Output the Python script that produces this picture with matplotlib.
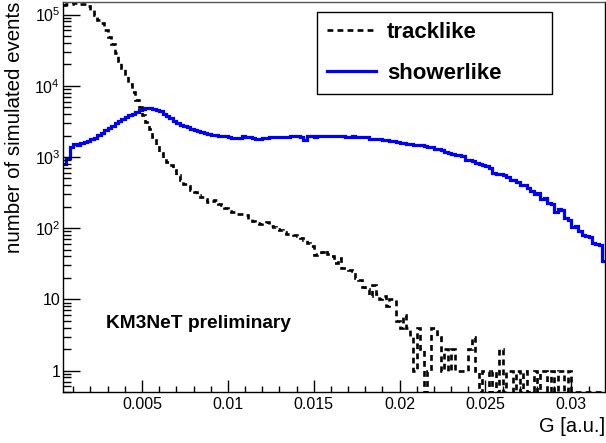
import numpy as np
import matplotlib
matplotlib.use('Agg')
import matplotlib.pyplot as plt
from matplotlib.lines import Line2D
from matplotlib.ticker import FixedLocator, FixedFormatter, LogLocator, MultipleLocator, NullFormatter

# ---------------- data ----------------
bin_lo = 0.0004
bin_width = 0.0002

tracklike = [
    135000, 140000, 142000, 143000, 143000, 142000, 140000, 130000, 115000, 98000,
    85000, 75000, 60000, 49000, 38000, 29000, 22000, 17500, 13500, 10500,
    8300, 6400, 5100, 3900, 3100, 2450, 1900, 1450, 1120, 960,
    860, 760, 650, 550, 470, 420, 385, 340, 320, 290,
    275, 255, 232, 240, 245, 220, 210, 190, 175, 168,
    160, 158, 156, 155, 135, 128, 118, 116, 120, 122,
    108, 104, 98, 93, 88, 82, 82, 80, 78, 72,
    69, 62, 57, 42, 44, 46, 50, 44, 40, 32,
    38, 28, 28, 26, 25, 20, 19, 15, 14, 11,
    16, 12, 10, 11, 8, 10, 10, 5, 4, 6,
    4, 3, 1, 4, 2, 0, 1, 4, 4, 3,
    1, 2, 1, 2, 1, 1, 1, 1, 2, 3,
    1, 0, 1, 1, 0, 1, 0, 2, 0, 1,
    1, 0, 1, 0, 1, 0, 0, 1, 0, 1,
    1, 0, 1, 0, 1, 1, 0, 1, 0, 0,
    0, 0, 0, 0, 0, 0, 0, 0,
]

showerlike = [
    790, 960, 1400, 1500, 1480, 1560, 1620, 1650, 1760, 1850,
    2050, 2200, 2400, 2550, 2700, 2950, 3250, 3400, 3650, 3850,
    4050, 4300, 4500, 4650, 4800, 4800, 4750, 4550, 4350, 4050,
    3750, 3500, 3200, 2950, 2800, 2700, 2600, 2500, 2400, 2350,
    2250, 2150, 2100, 2050, 2020, 2000, 1980, 1950, 1900, 1870,
    1850, 1830, 1950, 1930, 1900, 1830, 1800, 1790, 1820, 1850,
    1900, 1920, 1900, 1930, 1880, 1920, 1950, 1960, 1990, 1900,
    1750, 1960, 1970, 1930, 1950, 1990, 2000, 2000, 1970, 2000,
    1990, 1950, 1930, 1920, 1940, 1920, 1900, 1920, 1880, 1800,
    1790, 1780, 1760, 1740, 1720, 1700, 1680, 1620, 1570, 1560,
    1530, 1520, 1490, 1480, 1460, 1430, 1400, 1370, 1300, 1280,
    1260, 1180, 1120, 1090, 1080, 1060, 1030, 920, 900, 880,
    820, 790, 780, 740, 700, 600, 580, 570, 550, 520,
    480, 470, 440, 400, 410, 370, 330, 300, 310, 260,
    265, 225, 220, 170, 185, 180, 140, 130, 105, 108,
    90, 80, 78, 75, 62, 60, 58, 35,
]

series_names = ['tracklike', 'showerlike']
x_ticks = [0.005, 0.01, 0.015, 0.02, 0.025, 0.03]
x_tick_labels = ['0.005', '0.01', '0.015', '0.02', '0.025', '0.03']
y_ticks = [1, 10, 100, 1000, 10000, 100000]
y_tick_labels = ['1', '10', r'$10^{2}$', r'$10^{3}$', r'$10^{4}$', r'$10^{5}$']
x_label = 'G [a.u.]'
y_label = 'number of simulated events'
annotation = 'KM3NeT preliminary'

# ---------------- style ----------------
plt.rcParams['font.family'] = ['Liberation Sans', 'DejaVu Sans']
plt.rcParams['mathtext.fontset'] = 'custom'
plt.rcParams['mathtext.rm'] = 'Liberation Sans'
plt.rcParams['mathtext.it'] = 'Liberation Sans:italic'
plt.rcParams['mathtext.bf'] = 'Liberation Sans:bold'

W, H = 606, 443
fig = plt.figure(figsize=(W / 100, H / 100), dpi=100)
ax = fig.add_axes([63 / W, 1 - 392 / H, (605 - 63) / W, (392 - 2) / H])

y_min, y_max = 0.5, 1.5e5
n = len(tracklike)
edges = bin_lo + bin_width * np.arange(n + 1)
trk = np.asarray(tracklike, dtype=float)
shw = np.asarray(showerlike, dtype=float)
# empty bins are drawn on the bottom axis like ROOT does
trk_plot = np.where(trk > 0, trk, y_min)
shw_plot = np.where(shw > 0, shw, y_min)

dash = (0, (2.2, 1.6))
ax.stairs(shw_plot, edges, baseline=None, color='#0000ff', lw=2.3, clip_on=True)
ax.stairs(trk_plot, edges, baseline=None, color='black', lw=1.9, linestyle=dash, clip_on=True)

ax.set_yscale('log')
ax.set_xlim(0.0004, 0.03196)
ax.set_ylim(y_min, y_max)

ax.xaxis.set_major_locator(FixedLocator(x_ticks))
ax.xaxis.set_major_formatter(FixedFormatter(x_tick_labels))
ax.xaxis.set_minor_locator(MultipleLocator(0.001))
ax.yaxis.set_major_locator(FixedLocator(y_ticks))
ax.yaxis.set_major_formatter(FixedFormatter(y_tick_labels))
ax.yaxis.set_minor_locator(LogLocator(base=10, subs=np.arange(2, 10)))
ax.yaxis.set_minor_formatter(NullFormatter())

ax.tick_params(axis='both', which='both', direction='in', top=False, right=False,
               width=1.0, color='black', labelsize=11.5)
ax.tick_params(axis='x', which='major', length=8.6, pad=3.5)
ax.tick_params(axis='x', which='minor', length=4.3)
ax.tick_params(axis='y', which='major', length=12.2, pad=2)
ax.tick_params(axis='y', which='minor', length=5.8)

for s in ax.spines.values():
    s.set_linewidth(1.0)
    s.set_color('black')
ax.spines['top'].set_color('#555555')

fig.text(605 / W, 1 - 427 / H, x_label, ha='right', va='center', fontsize=14.5)
fig.text(15 / W, 1 - 2 / H, y_label, ha='center', va='top', rotation=90, fontsize=14.8)

ax.text(106 / W, 1 - 323 / H, annotation, transform=fig.transFigure,
        ha='left', va='center', fontsize=13.8, fontweight='bold')

handles = [Line2D([], [], color='black', lw=1.9, linestyle=dash),
           Line2D([], [], color='#0000ff', lw=2.3)]
leg = ax.legend(handles, series_names, loc='upper left',
                bbox_to_anchor=(317 / W, 1 - 96 / H, 235 / W, 84 / H),
                bbox_transform=fig.transFigure, mode='expand',
                prop={'weight': 'bold', 'size': 16}, frameon=True, fancybox=False,
                framealpha=1, edgecolor='black', borderpad=0.45, labelspacing=0.9,
                handlelength=2.2, handletextpad=0.5, borderaxespad=0)
leg.get_frame().set_linewidth(1.0)

fig.savefig('out.png', dpi=100)
